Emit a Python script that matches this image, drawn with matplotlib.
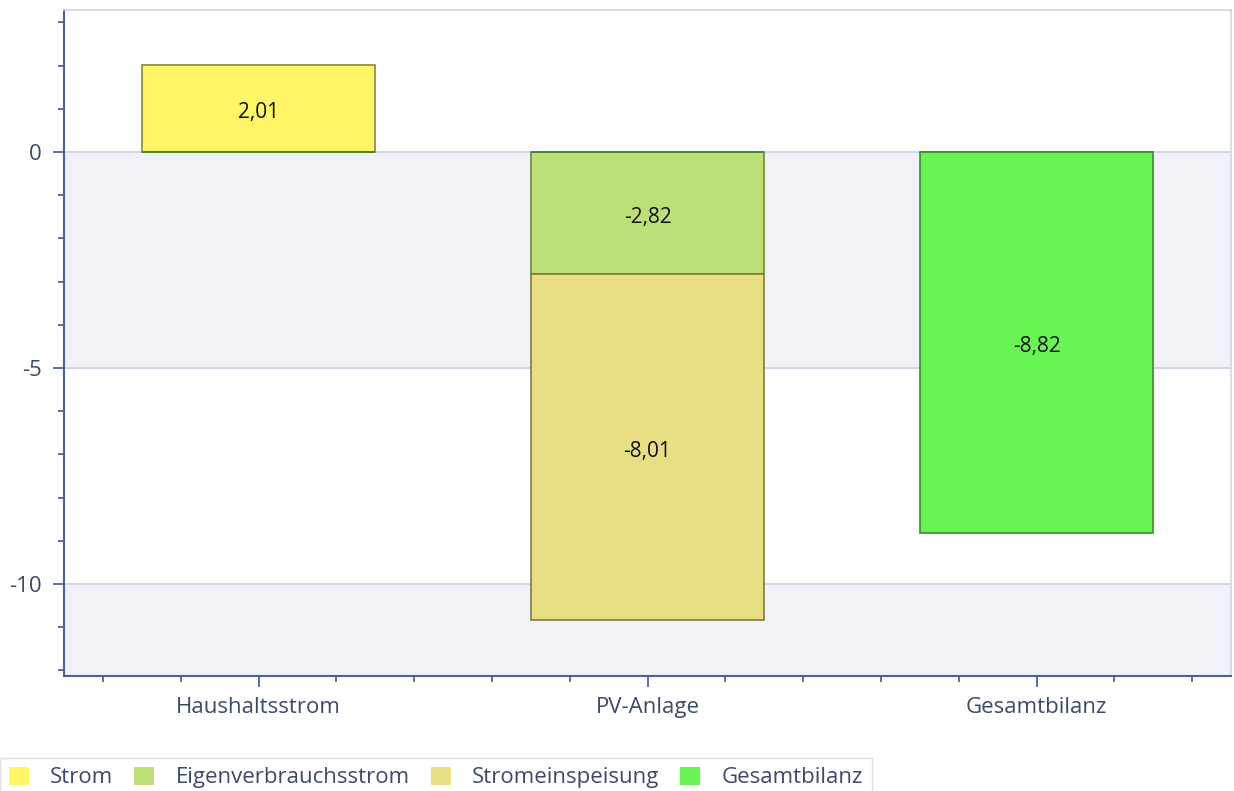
import matplotlib.pyplot as plt
from matplotlib.patches import Patch

categories = ['Haushaltsstrom', 'PV-Anlage', 'Gesamtbilanz']
strom = [2.01, 0, 0]
eigenverbrauch = [0, -2.82, 0]
einspeisung = [0, -8.01, 0]
gesamt = [0, 0, -8.82]
series_names = ['Strom', 'Eigenverbrauchsstrom', 'Stromeinspeisung', 'Gesamtbilanz']

plt.rcParams['font.family'] = ['Open Sans', 'DejaVu Sans']

axis_blue = '#4a6294'
text_col = '#3b4a68'
colors = ['#fff566', '#bcdf77', '#e8df84', '#68f452']
edges = ['#8a8640', '#6f8a3e', '#7e7a3c', '#3d8a30']

fig = plt.figure(figsize=(12.34, 7.91), dpi=100)
ax = fig.add_axes([0.0519, 0.1454, 0.9457, 0.842])

ax.set_xlim(-0.5, 2.5)
ax.set_ylim(-12.13, 3.29)

# alternating bands
ax.axhspan(-5, 0, color='#f0f2f7', zorder=0)
ax.axhspan(-15, -10, color='#f0f2f7', zorder=0)
for y in [0, -5, -10]:
    ax.axhline(y, color='#c8d1e2', lw=1.2, zorder=1)

x = range(len(categories))
w = 0.6
kw = dict(width=w, linewidth=1.2, zorder=3)
b1 = ax.bar(x, strom, color=colors[0], edgecolor=edges[0], **kw)
b2 = ax.bar(x, eigenverbrauch, color=colors[1], edgecolor=edges[1], **kw)
b3 = ax.bar(x, einspeisung, bottom=eigenverbrauch, color=colors[2], edgecolor=edges[2], **kw)
b4 = ax.bar(x, gesamt, color=colors[3], edgecolor=edges[3], **kw)

for bars, vals in [(b1, strom), (b2, eigenverbrauch), (b3, einspeisung), (b4, gesamt)]:
    for rect, v in zip(bars, vals):
        if v == 0:
            continue
        ax.annotate(f'{v:.2f}'.replace('.', ','),
                    (rect.get_x() + rect.get_width() / 2, rect.get_y() + rect.get_height() / 2),
                    xytext=(0, -3), textcoords='offset points', ha='center', va='center',
                    fontsize=15, color='#111111', zorder=4)

ax.set_yticks([0, -5, -10])
ax.set_yticklabels(['0', '-5', '-10'])
ax.set_yticks(range(-12, 4), minor=True)
ax.set_xticks(list(x))
ax.set_xticklabels(categories)
ax.set_xticks([i * 0.2 - 0.4 for i in range(15)], minor=True)

ax.tick_params(axis='both', which='major', colors=axis_blue, labelcolor=text_col,
               labelsize=16, length=8, width=1.3)
ax.tick_params(axis='both', which='minor', colors=axis_blue, length=4, width=1.3)
ax.tick_params(axis='x', which='major', pad=7)
ax.tick_params(axis='y', which='major', pad=8)

for s in ['left', 'bottom']:
    ax.spines[s].set_color(axis_blue)
    ax.spines[s].set_linewidth(1.5)
for s in ['top', 'right']:
    ax.spines[s].set_color('#cfd6e4')
    ax.spines[s].set_linewidth(1.2)

handles = [Patch(facecolor=c, edgecolor='none') for c in colors]
leg = fig.legend(handles, series_names, loc='lower left', bbox_to_anchor=(-0.009, -0.022),
                 ncol=4, frameon=True, fontsize=16, handlelength=0.9, handleheight=0.9,
                 columnspacing=0.95, handletextpad=0.95, borderpad=0.4, fancybox=False)
leg.get_frame().set_edgecolor('#d9d9d9')
leg.get_frame().set_linewidth(1.0)
for t in leg.get_texts():
    t.set_color(text_col)

fig.savefig('out.png', dpi=100)
